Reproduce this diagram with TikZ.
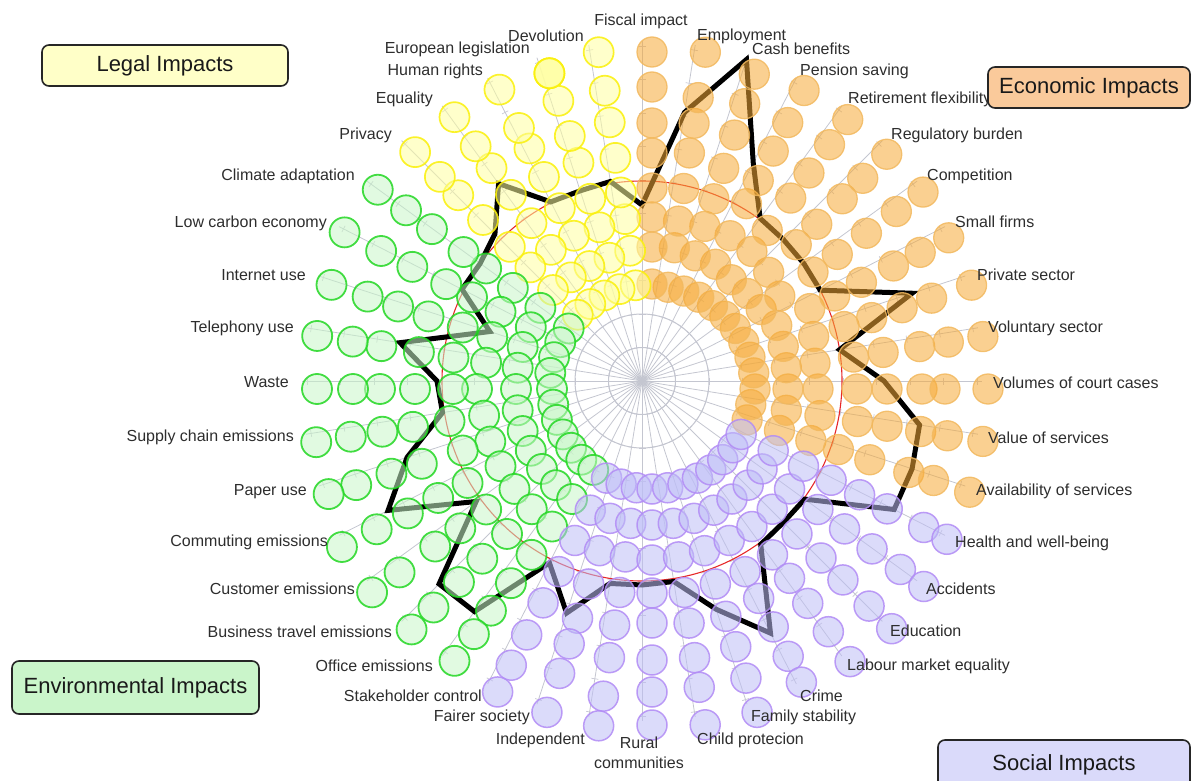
\documentclass[tikz,border=0pt]{standalone}
\usepackage{fontspec}
\setmainfont{Liberation Sans}
\definecolor{txt}{RGB}{45,45,45}
\definecolor{gridc}{RGB}{196,198,208}
\definecolor{tickc}{RGB}{200,200,212}
\definecolor{ecoF}{RGB}{246,170,55}
\definecolor{ecoD}{RGB}{242,185,95}
\definecolor{legF}{RGB}{255,255,160}
\definecolor{legD}{RGB}{250,240,10}
\definecolor{envF}{RGB}{200,246,200}
\definecolor{envD}{RGB}{35,215,35}
\definecolor{socF}{RGB}{190,190,246}
\definecolor{socD}{RGB}{178,140,245}
\definecolor{redc}{RGB}{230,40,40}
\definecolor{boxLeg}{RGB}{255,255,200}
\definecolor{boxEco}{RGB}{250,202,155}
\definecolor{boxEnv}{RGB}{202,245,202}
\definecolor{boxSoc}{RGB}{218,218,250}
\begin{document}
\begin{tikzpicture}[x=1pt,y=-1pt,
  lbl/.style={font=\fontsize{16}{18}\selectfont, text=txt, inner sep=0pt},
  legendbox/.style={draw=black!85, line width=1.6pt, rounded corners=7pt,
    font=\fontsize{22}{24}\selectfont, text=black!90, inner sep=0pt},
  spoke/.style={draw=gridc, line width=0.8pt},
  tickmark/.style={draw=tickc, line width=0.7pt},
  bub/.style={fill opacity=0.55, draw opacity=0.85},
  ecobub/.style={bub, fill=ecoF, draw=ecoD, line width=1.3pt},
  legbub/.style={bub, fill=legF, draw=legD, line width=1.7pt},
  envbub/.style={bub, fill=envF, draw=envD, line width=1.8pt},
  socbub/.style={bub, fill=socF, draw=socD, line width=1.5pt},
  scoreline/.style={draw=black, line width=5pt, line join=miter},
  target/.style={draw=redc, line width=1.1pt}]
\useasboundingbox (0,0) rectangle (1192,781);

% axes, grid rings, ticks, target ring and score line
\begin{scope}[shift={(642,381)}]
  \foreach \a in {0,9,...,351} {
    \draw[spoke] (0,0) -- (-\a:340);
    \begin{scope}[rotate=\a]
      \foreach \k in {1,...,10} \draw[tickmark] (\k*33.5,-3.5) -- (\k*33.5,3.5);
    \end{scope}
  }
  \draw[spoke, line width=1pt] (0,0) circle[radius=33.5];
  \draw[spoke, line width=1pt] (0,0) circle[radius=67];
  \draw[target] (0,0) circle[radius=200];
  \foreach \a/\r [count=\i] in {0/242,9/200,18/284,27/200,36/200,45/200,54/201,
      63/245,72/338,81/272,90/176,99/202,108/200,117/201,126/244,135/208,
      144/200,153/202,162/160,171/245,180/205,189/202,198/247,207/285,
      216/205,225/287,234/285,243/204,252/244,261/205,270/204,279/203,
      288/240,297/283,306/202,315/200,324/201,333/283,342/284,351/281}
    \coordinate (p\i) at (-\a:\r);
  \draw[scoreline] (p1) \foreach \i in {2,...,40} { -- (p\i) } -- cycle;
\end{scope}

% response bubbles along each axis
\begin{scope}[shift={(652,389)}]
  \foreach \a/\rs in {342/{100,134,167,196,229,270,296,334},
      351/{100,136,170,208,238,272,299,335},
      0/{103,136,166,205,235,270,293,336},
      9/{103,136,165,204,234,271,300,335},
      18/{103,138,170,202,231,263,294,336},
      27/{103,140,177,205,235,271,301,333},
      36/{103,135,158,199,229,265,302,335},
      45/{103,135,165,204,233,269,298,332},
      54/{103,135,170,196,236,267,302,333},
      63/{103,140,172,208,234,267,299,335},
      72/{103,140,171,200,232,267,300,331},
      81/{103,143,170,203,239,269,295,341},
      90/{105,142,172,201,236,266,302,337}}
    \foreach \r in \rs \path[ecobub] (-\a:\r) circle[radius=15];
  \foreach \a/\rs in {99/{105,140,172,199,234,270,302,341},
      108/{105,138,170,200,238,266,303,332,332,332},
      117/{105,138,172,203,238,270,293,336},
      126/{105,138,172,205,240,273,300,336},
      135/{105,140,172,201,239,274,300,335}}
    \foreach \r in \rs \path[legbub] (-\a:\r) circle[radius=15];
  \foreach \a/\rs in {144/{103,138,172,205,233,272,304,339},
      153/{103,136,170,202,231,269,304,345},
      162/{103,136,168,199,235,267,299,337},
      171/{103,136,168,201,236,274,303,339},
      180/{100,136,175,199,237,272,299,335},
      189/{100,136,170,205,242,273,305,340},
      198/{100,136,170,199,242,274,311,340},
      207/{100,136,170,207,240,274,309,348},
      216/{100,136,170,205,237,268,312,346},
      225/{100,136,170,205,240,273,309,340},
      234/{100,136,170,205,240,274,303,336}}
    \foreach \r in \rs \path[envbub] (-\a:\r) circle[radius=15];
  \foreach \a/\rs in {243/{100,136,170,205,240,276,310,340},
      252/{100,136,170,205,241,268,299,340},
      261/{100,136,170,206,239,272,311,341},
      270/{100,136,171,204,234,271,303,336},
      279/{100,136,170,206,237,272,302,340},
      288/{100,136,170,205,239,271,304,340},
      297/{100,136,170,205,235,267,300,329},
      306/{100,136,170,205,234,265,300,337},
      315/{100,136,170,205,239,270,307,339},
      324/{100,136,170,205,238,272,307,336},
      333/{100,136,170,201,233,264,305,331}}
    \foreach \r in \rs \path[socbub] (-\a:\r) circle[radius=15];
\end{scope}

% axis labels, right-hand side
\node[lbl, anchor=west] (employment) at (697,36) {Employment};
\node[lbl, anchor=west] (cash) at (752,49) {Cash benefits};
\node[lbl, anchor=west] (pension) at (800,71) {Pension saving};
\node[lbl, anchor=west] (retire) at (848,99) {Retirement flexibility};
\node[lbl, anchor=west] (regul) at (891,135) {Regulatory burden};
\node[lbl, anchor=west] (compet) at (927,176) {Competition};
\node[lbl, anchor=west] (small) at (955,222) {Small firms};
\node[lbl, anchor=west] (private) at (977,275) {Private sector};
\node[lbl, anchor=west] (volunt) at (988,328) {Voluntary sector};
\node[lbl, anchor=west] (volumes) at (993,383) {Volumes of court cases};
\node[lbl, anchor=west] (value) at (988,438) {Value of services};
\node[lbl, anchor=west] (avail) at (976,491) {Availability of services};
\node[lbl, anchor=west] (health) at (955,543) {Health and well-being};
\node[lbl, anchor=west] (accid) at (926,589) {Accidents};
\node[lbl, anchor=west] (educ) at (890,631) {Education};
\node[lbl, anchor=west] (labour) at (847,666) {Labour market equality};
\node[lbl, anchor=west] (crime) at (800,696) {Crime};
\node[lbl, anchor=west] (family) at (751,717) {Family stability};
\node[lbl, anchor=west] (child) at (697,740) {Child protecion};

% axis labels, top and bottom
\node[lbl] (fiscal) at (641,21) {Fiscal impact};
\node[lbl, align=center, font=\fontsize{16}{20}\selectfont] (rural) at (639,753) {Rural\\communities};

% axis labels, left-hand side
\node[lbl, anchor=east] (devol) at (584,36) {Devolution};
\node[lbl, anchor=east] (euro) at (530,49) {European legislation};
\node[lbl, anchor=east] (human) at (483,71) {Human rights};
\node[lbl, anchor=east] (equal) at (433,99) {Equality};
\node[lbl, anchor=east] (privacy) at (392,135) {Privacy};
\node[lbl, anchor=east] (climate) at (355,176) {Climate adaptation};
\node[lbl, anchor=east] (lowcarb) at (327,223) {Low carbon economy};
\node[lbl, anchor=east] (internet) at (306,275) {Internet use};
\node[lbl, anchor=east] (teleph) at (294,328) {Telephony use};
\node[lbl, anchor=east] (waste) at (289,382) {Waste};
\node[lbl, anchor=east] (supply) at (294,437) {Supply chain emissions};
\node[lbl, anchor=east] (paper) at (307,492) {Paper use};
\node[lbl, anchor=east] (commut) at (328,542) {Commuting emissions};
\node[lbl, anchor=east] (custom) at (355,589) {Customer emissions};
\node[lbl, anchor=east] (busin) at (392,632) {Business travel emissions};
\node[lbl, anchor=east] (office) at (433,666) {Office emissions};
\node[lbl, anchor=east] (stake) at (482,696) {Stakeholder control};
\node[lbl, anchor=east] (fairer) at (530,717) {Fairer society};
\node[lbl, anchor=east] (indep) at (585,740) {Independent};

% category keys
\node[legendbox, fill=boxLeg, minimum width=246, minimum height=41] (legal) at (165,65.5) {Legal Impacts};
\node[legendbox, fill=boxEco, minimum width=202, minimum height=41] (economic) at (1089,87.5) {Economic Impacts};
\node[legendbox, fill=boxEnv, minimum width=247, minimum height=53] (environ) at (135.5,687.5) {Environmental Impacts};
\node[legendbox, fill=boxSoc, minimum width=252, minimum height=50] (social) at (1064,765) {Social Impacts};
\end{tikzpicture}
\end{document}
